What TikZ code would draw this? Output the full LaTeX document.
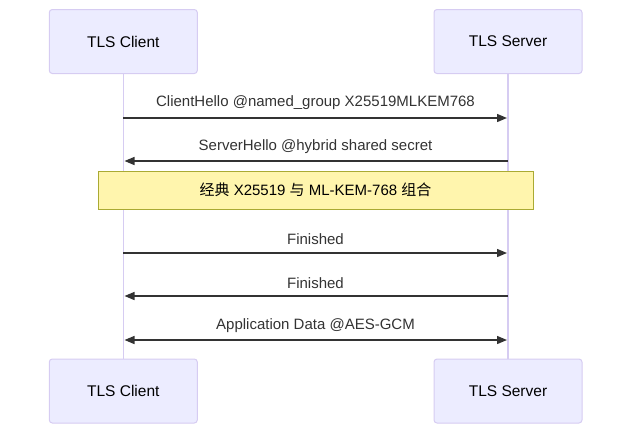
\documentclass[tikz,border=0pt]{standalone}
\usepackage{fontspec}
\setmainfont{Liberation Sans}
\newfontfamily\cjk{Noto Sans CJK SC}
\usetikzlibrary{arrows.meta}
\definecolor{actfill}{HTML}{ECECFF}
\definecolor{actline}{HTML}{D6CCF2}
\definecolor{notefill}{HTML}{FFF5AD}
\definecolor{noteline}{HTML}{AAAA33}
\definecolor{msg}{HTML}{333333}
\begin{document}
\begin{tikzpicture}[x=1pt,y=-1pt,
  actor/.style={draw=actline,fill=actfill,rounded corners=3pt,line width=1pt,minimum width=148pt,minimum height=64pt,font=\fontsize{15.5}{18}\selectfont,text=black,inner sep=0pt},
  lifeline/.style={draw=actline,line width=1.2pt},
  msgline/.style={draw=msg,line width=1.4pt,-{Triangle[length=10pt,width=8pt]}},
  msgboth/.style={draw=msg,line width=1.4pt,{Triangle[length=10pt,width=8pt]}-{Triangle[length=10pt,width=8pt]}},
  msglabel/.style={font=\fontsize{15}{18}\selectfont,text=msg,inner sep=0pt},
  notebox/.style={draw=noteline,fill=notefill,line width=1pt,minimum width=435pt,minimum height=38pt,font=\fontsize{15}{18}\selectfont,text=black,inner sep=0pt}
]
\useasboundingbox (0,0) rectangle (640,440);
\node[actor] (ct) at (123.3,41.5) {TLS Client};
\node[actor] (st) at (508,41.5) {TLS Server};
\node[actor] (cb) at (123.3,391) {TLS Client};
\node[actor] (sb) at (508,391) {TLS Server};
\draw[lifeline] (ct.south) -- (cb.north);
\draw[lifeline] (st.south) -- (sb.north);
% messages
\coordinate (c1) at (123.3,118); \coordinate (s1) at (507,118);
\coordinate (c2) at (124.5,161); \coordinate (s2) at (508,161);
\coordinate (c3) at (123.3,253); \coordinate (s3) at (507,253);
\coordinate (c4) at (124.5,296); \coordinate (s4) at (508,296);
\coordinate (c5) at (124.5,340); \coordinate (s5) at (507,340);
\draw[msgline] (c1) -- (s1);
\node[msglabel] (l1) at (315.5,103) {ClientHello @named\_group X25519MLKEM768};
\draw[msgline] (s2) -- (c2);
\node[msglabel] (l2) at (315.5,147) {ServerHello @hybrid shared secret};
\node[notebox] (note) at (315.5,190) {{\cjk 经典} X25519 {\cjk 与} ML-KEM-768 {\cjk 组合}};
\draw[msgline] (c3) -- (s3);
\node[msglabel] (l3) at (315.5,239) {Finished};
\draw[msgline] (s4) -- (c4);
\node[msglabel] (l4) at (315.5,283) {Finished};
\draw[msgboth] (c5) -- (s5);
\node[msglabel] (l5) at (315.5,326) {Application Data @AES-GCM};
\end{tikzpicture}
\end{document}
